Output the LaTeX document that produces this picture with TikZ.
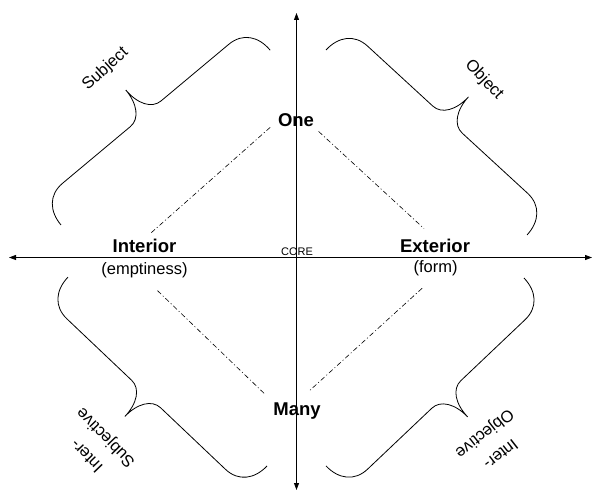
\documentclass[tikz,border=0pt]{standalone}
\usepackage{fontspec}
\setmainfont{Liberation Sans}
\usetikzlibrary{arrows.meta}

\begin{document}
\begin{tikzpicture}[
  x=1pt, y=1pt,
  pole/.style={font=\fontsize{18.5}{22}\selectfont\bfseries, inner sep=0pt, anchor=base},
  gloss/.style={font=\fontsize{16.5}{20}\selectfont, inner sep=0pt, anchor=base},
  quad/.style={font=\fontsize{16.5}{26}\selectfont, align=center, inner sep=0pt},
  axis/.style={<->, >={Triangle[length=7pt, width=5pt]}, line width=0.9pt},
  link/.style={line width=0.6pt, dash pattern=on 5pt off 2.5pt on 1pt off 2.5pt},
  bracket/.style={line width=0.8pt},
  pics/curly/.style={code={
    \draw[bracket] (0,0) .. controls (0,18) and (10,31) .. (28,31)
      -- ({#1/2-20},31) .. controls ({#1/2-8},31) and ({#1/2},44) .. ({#1/2},62)
      .. controls ({#1/2},44) and ({#1/2+8},31) .. ({#1/2+20},31)
      -- ({#1-28},31) .. controls ({#1-10},31) and (#1,18) .. (#1,0);
  }},
]
  \useasboundingbox (0,0) rectangle (594,493);

  % Axes
  \coordinate (up) at (296.5,480);
  \coordinate (down) at (296.5,3);
  \coordinate (lft) at (9,235.5);
  \coordinate (rgt) at (592,235.5);
  \draw[axis] (down) -- (up);
  \draw[axis] (lft) -- (rgt);

  % Poles
  \node[pole] (one) at (296,366) {One};
  \node[pole] (many) at (297,78) {Many};
  \node[pole] (interior) at (144.5,240.7) {Interior};
  \node[pole] (exterior) at (435,240.7) {Exterior};
  \node[gloss] (empt) at (144.5,218.5) {(emptiness)};
  \node[gloss] (form) at (435.5,220.5) {(form)};
  \node[font=\fontsize{11}{13}\selectfont, inner sep=0pt, anchor=base] (core) at (297,237) {CORE};

  % Diagonals
  \draw[link, shorten <=9pt, shorten >=10pt] (interior.north) -- (one.west);
  \draw[link, shorten <=6pt, shorten >=15pt] (one.south east) -- (exterior.north);
  \draw[link, shorten <=18pt, shorten >=12pt] (empt.south) -- (many.north west);
  \draw[link, shorten <=18pt, shorten >=16pt] (form.south) -- (many.north);

  % Braces
  \pic[rotate=39.9] at (61,268) {curly=272.6};
  \pic[rotate=-42.6] at (326,443) {curly=273.2};
  \pic[rotate=-136.5] at (524,215) {curly=273};
  \pic[rotate=136.5] at (267,27) {curly=274.4};

  % Quadrant labels
  \node[quad, rotate=42] (subj) at (105.5,424) {Subject};
  \node[quad, rotate=-47] (obj) at (484,413) {Object};
  \node[quad, rotate=134] (isubj) at (97,47) {Inter-\\Subjective};
  \node[quad, rotate=-142] (iobj) at (492,50) {Inter-\\Objective};
\end{tikzpicture}
\end{document}
